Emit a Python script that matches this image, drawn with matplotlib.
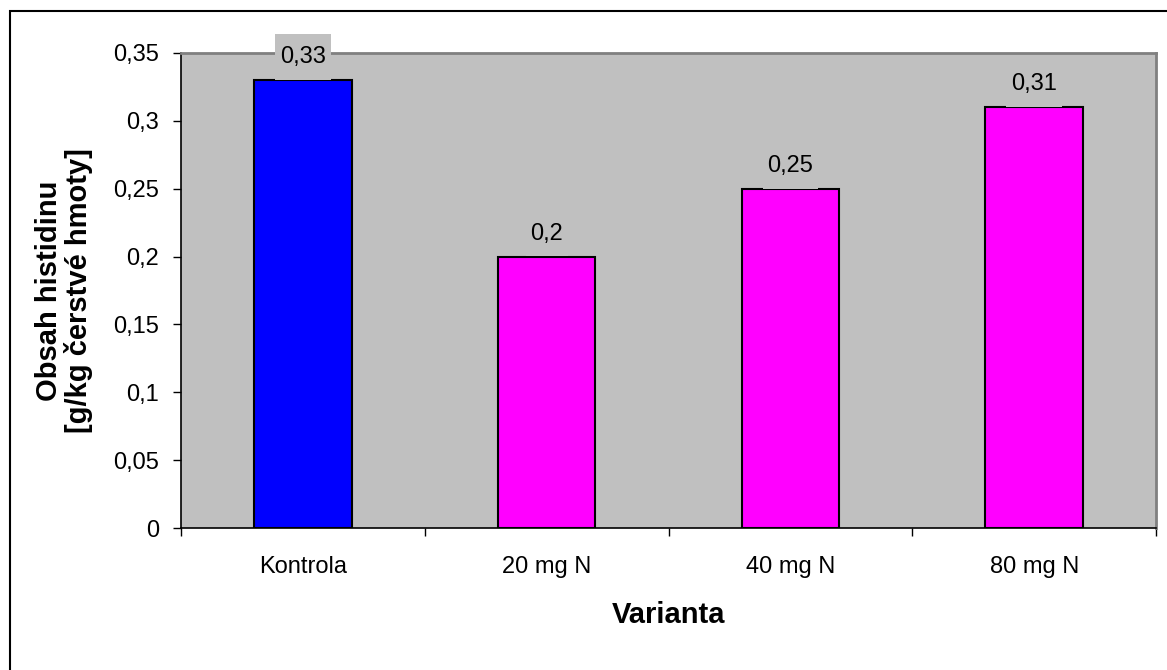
import matplotlib
matplotlib.use("Agg")
import matplotlib.pyplot as plt
from matplotlib.patches import Rectangle
from matplotlib.path import Path
from matplotlib.ticker import FuncFormatter, MultipleLocator

plt.rcParams['font.family'] = ['Liberation Sans', 'DejaVu Sans']

varianty = ['Kontrola', '20 mg N', '40 mg N', '80 mg N']
histidin = [0.33, 0.2, 0.25, 0.31]
barvy = ['#0000FF', '#FF00FF', '#FF00FF', '#FF00FF']


def comma(v, pos=None):
    return f'{v:g}'.replace('.', ',')


def label_box(x0, y0, width, height, mutation_size):
    # Excel-like label background: narrow sides, tall top/bottom
    px = 0.2 * mutation_size
    py = 0.5 * mutation_size
    x0, y0 = x0 - px, y0 - py
    x1, y1 = x0 + width + 2 * px, y0 + height + 2 * py
    return Path([(x0, y0), (x1, y0), (x1, y1), (x0, y1), (x0, y0)], closed=True)


fig = plt.figure(figsize=(11.67, 6.7), dpi=100)
ax = fig.add_axes([0.1551, 0.2119, 0.8355, 0.709])
ax.set_facecolor('#C0C0C0')

x = range(len(varianty))
ax.bar(x, histidin, width=0.4, color=barvy, edgecolor='black', linewidth=1.5, zorder=2)

for i, v in enumerate(histidin):
    ax.annotate(comma(v), (i, v), xytext=(0, 16.5), textcoords='offset points',
                ha='center', va='center', fontsize=17, zorder=4,
                bbox=dict(boxstyle=label_box, fc='#C0C0C0', ec='none'))

ax.set_xlim(-0.5, len(varianty) - 0.5)
ax.set_ylim(0, 0.35)
ax.yaxis.set_major_locator(MultipleLocator(0.05))
ax.yaxis.set_major_formatter(FuncFormatter(comma))
ax.set_xticks(list(x))
ax.set_xticklabels(varianty)
ax.set_xticks([i - 0.5 for i in range(len(varianty) + 1)], minor=True)
ax.tick_params(axis='x', which='major', length=0, pad=20, labelsize=17)
ax.tick_params(axis='x', which='minor', length=6, width=1, color='black')
ax.tick_params(axis='y', length=6, width=1, pad=10, labelsize=17)

for s in ['left', 'bottom']:
    ax.spines[s].set_color('black')
    ax.spines[s].set_linewidth(1.2)
for s in ['top', 'right']:
    ax.spines[s].set_color('#808080')
    ax.spines[s].set_linewidth(2)

ax.set_xlabel('Varianta', fontsize=21, fontweight='bold', labelpad=17)
ax.set_ylabel('Obsah histidinu\n[g/kg čerstvé hmoty]', fontsize=21,
              fontweight='bold', labelpad=14, linespacing=1.05)

# outer chart frame (cropped at right and bottom)
fig.patches.append(Rectangle((10 / 1167, -0.02), 1.05, 1 - 11 / 670 + 0.02,
                             transform=fig.transFigure, fill=False,
                             edgecolor='black', linewidth=1.5))

fig.savefig('out.png', dpi=100)
